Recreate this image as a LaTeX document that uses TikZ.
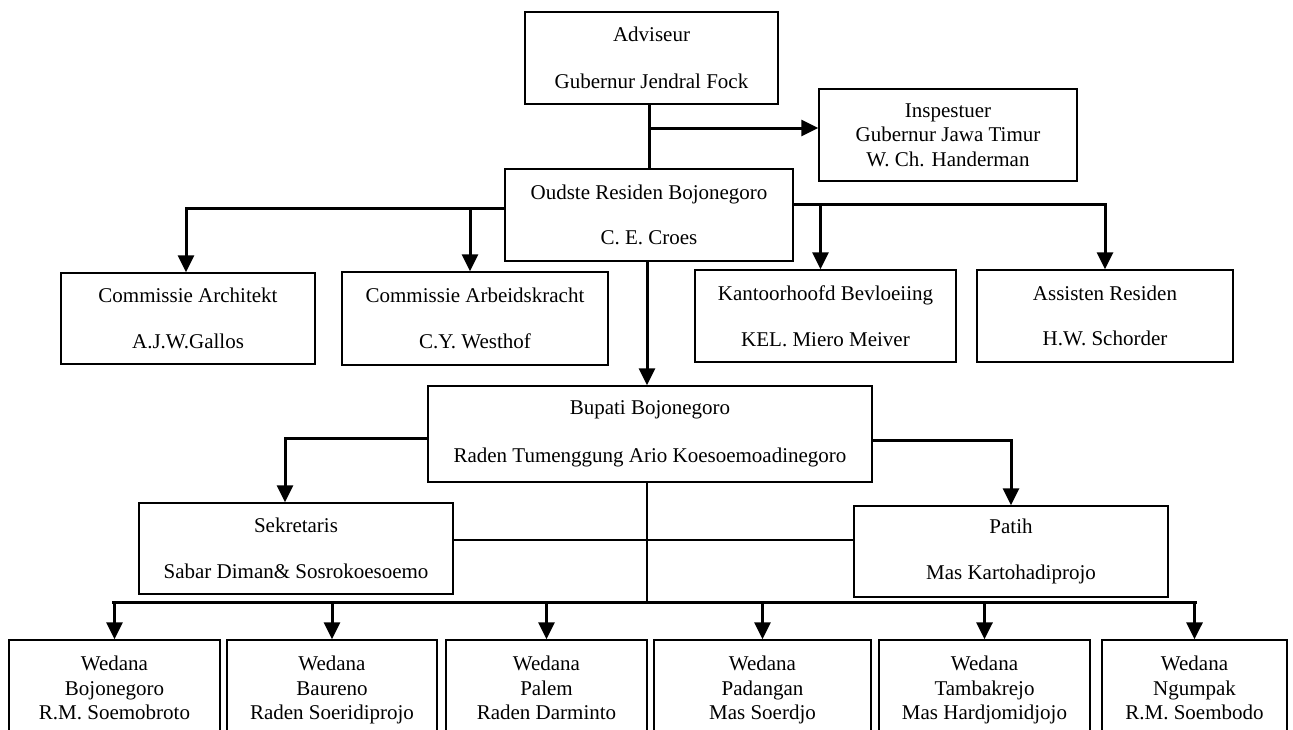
\documentclass[tikz,border=0pt]{standalone}
\usepackage{fontspec}
\setmainfont{Liberation Serif}
\usetikzlibrary{positioning,arrows.meta,calc}

\begin{document}
\begin{tikzpicture}[x=1pt, y=-1pt,
    office/.style={draw, line width=1.3pt, align=center, inner sep=0pt, fill=white, font=\fontsize{21}{24.5}\selectfont},
    wedana/.style={office, minimum height=100pt, text height=64pt, text depth=5pt},
    order/.style={-{Triangle[length=17pt,width=16pt]}, line width=3pt},
    tie/.style={line width=1.3pt}
  ]
  \useasboundingbox (0,0) rectangle (1293,729);
  \clip (0,0) rectangle (1293,729);

  % top offices
  \node[office, minimum width=253pt, minimum height=92pt] (adv) at (651.5,58) {Adviseur\\[23pt]Gubernur Jendral Fock};
  \node[office, minimum width=258pt, minimum height=92pt] (insp) at (948,135) {Inspestuer\\Gubernur Jawa Timur\\W. Ch. Handerman};
  \node[office, minimum width=288pt, minimum height=92pt] (oud) at (649,215) {Oudste Residen Bojonegoro\\[21pt]C. E. Croes};

  % residency staff
  \node[office, minimum width=254pt, minimum height=91pt] (arch) at (188,318.5) {Commissie Architekt\\[21pt]A.J.W.Gallos};
  \node[office, minimum width=266pt, minimum height=93pt] (arbeid) at (475,318.5) {Commissie Arbeidskracht\\[21pt]C.Y. Westhof};
  \node[office, minimum width=261pt, minimum height=92pt] (kant) at (825.5,316) {Kantoorhoofd Bevloeiing\\[21pt]KEL. Miero Meiver};
  \node[office, minimum width=256pt, minimum height=92pt] (asis) at (1105,316) {Assisten Residen\\[21pt]H.W. Schorder};

  % regency
  \node[office, minimum width=444pt, minimum height=96pt] (bupati) at (650,434) {Bupati Bojonegoro\\[23pt]Raden Tumenggung Ario Koesoemoadinegoro};
  \node[office, minimum width=314pt, minimum height=91pt] (sekr) at (296,548.5) {Sekretaris\\[21pt]Sabar Diman\& Sosrokoesoemo};
  \node[office, minimum width=314pt, minimum height=91pt] (patih) at (1011,551.5) {Patih\\[21pt]Mas Kartohadiprojo};

  % districts
  \node[wedana, minimum width=211pt] (w1) at (114.5,690) {Wedana\\Bojonegoro\\R.M. Soemobroto};
  \node[wedana, minimum width=210pt] (w2) at (332,690) {Wedana\\Baureno\\Raden Soeridiprojo};
  \node[wedana, minimum width=201pt] (w3) at (546.5,690) {Wedana\\Palem\\Raden Darminto};
  \node[wedana, minimum width=217pt] (w4) at (762.5,690) {Wedana\\Padangan\\Mas Soerdjo};
  \node[wedana, minimum width=211pt] (w5) at (984.5,690) {Wedana\\Tambakrejo\\Mas Hardjomidjojo};
  \node[wedana, minimum width=185pt] (w6) at (1194.5,690) {Wedana\\Ngumpak\\R.M. Soembodo};

  % connectors
  \coordinate (fork) at (648,128);
  \draw[line width=3pt] (oud.north |- adv.south) -- (oud.north);
  \draw[order] (fork) -- (fork -| insp.west);
  \draw[order] ([yshift=7pt]oud.west) -| ([xshift=-2pt]arch.north);
  \draw[order] ([yshift=7pt]oud.west -| arbeid.north) ++(-5,0) -- ([xshift=-5pt]arbeid.north);
  \draw[order] ([yshift=11pt]oud.east) -| (asis.north);
  \draw[order] ([yshift=11pt]oud.east -| kant.north) ++(-5,0) -- ([xshift=-5pt]kant.north);
  \draw[order] ([xshift=-2pt]oud.south) -- ([xshift=-3pt]bupati.north);
  \draw[order] ([yshift=-4pt]bupati.west) -| ([xshift=-11pt]sekr.north);
  \draw[order] ([yshift=-6pt]bupati.east) -| (patih.north);

  \coordinate (tiepoint) at (647,540);
  \draw[tie] (tiepoint -| sekr.east) -- (tiepoint -| patih.west);
  \coordinate (bus) at (647,602);
  \draw[tie] (bus |- bupati.south) -- (bus);
  \draw[line width=3pt] ([xshift=-2.5pt]bus -| w1.north) -- ([xshift=2.5pt]bus -| w6.north);
  \foreach \w in {w1,w2,w3,w4,w5,w6}
    \draw[order] (bus -| \w.north) -- (\w.north);
\end{tikzpicture}
\end{document}
